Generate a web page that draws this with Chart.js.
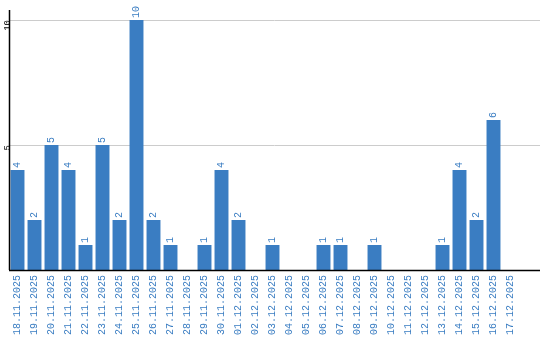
<!DOCTYPE html>
<html>
<head>
<meta charset="utf-8">
<script src="https://cdn.jsdelivr.net/npm/chart.js@4"></script>
<style>
  html, body { margin: 0; padding: 0; background: #fff; }
  #wrap { width: 540px; height: 340px; }
</style>
</head>
<body>
<div id="wrap"><canvas id="chart"></canvas></div>
<script>
// ─── Data ─────────────────────────────────────────────────────────────
const days = [
  "18.11.2025", "19.11.2025", "20.11.2025", "21.11.2025", "22.11.2025",
  "23.11.2025", "24.11.2025", "25.11.2025", "26.11.2025", "27.11.2025",
  "28.11.2025", "29.11.2025", "30.11.2025", "01.12.2025", "02.12.2025",
  "03.12.2025", "04.12.2025", "05.12.2025", "06.12.2025", "07.12.2025",
  "08.12.2025", "09.12.2025", "10.12.2025", "11.12.2025", "12.12.2025",
  "13.12.2025", "14.12.2025", "15.12.2025", "16.12.2025", "17.12.2025",
];
const counts = [
  4, 2, 5, 4, 1, 5, 2, 10, 2, 1,
  0, 1, 4, 2, 0, 1, 0, 0, 1, 1,
  0, 1, 0, 0, 0, 1, 4, 2, 6, 0,
];
const yTicks = [5, 10];

const BLUE = "#3a7dc2";
const FONT = "'Liberation Mono', monospace";

// ─── Plugins ──────────────────────────────────────────────────────────
// value labels above bars, rotated like the axis labels
const valueLabels = {
  id: "valueLabels",
  afterDatasetsDraw(chart) {
    const ctx = chart.ctx;
    const meta = chart.getDatasetMeta(0);
    ctx.save();
    ctx.fillStyle = BLUE;
    ctx.font = "10px " + FONT;
    ctx.textAlign = "left";
    ctx.textBaseline = "middle";
    meta.data.forEach((bar, i) => {
      const v = counts[i];
      if (!v) return;
      ctx.save();
      ctx.translate(bar.x, bar.y - 2);
      ctx.rotate(-Math.PI / 2);
      ctx.fillText(String(v), 0, 0);
      ctx.restore();
    });
    ctx.restore();
  },
};

// stretch grid lines and the base line out to the right edge
const fullWidthLines = {
  id: "fullWidthLines",
  beforeDatasetsDraw(chart) {
    const { ctx, chartArea, scales } = chart;
    ctx.save();
    ctx.lineWidth = 1;
    ctx.strokeStyle = "#cccccc";
    yTicks.forEach((t) => {
      const y = Math.round(scales.y.getPixelForValue(t)) + 0.5;
      ctx.beginPath();
      ctx.moveTo(chartArea.left, y);
      ctx.lineTo(chart.width, y);
      ctx.stroke();
    });
    ctx.restore();
  },
  afterDatasetsDraw(chart) {
    const { ctx, chartArea } = chart;
    ctx.save();
    ctx.strokeStyle = "#000";
    ctx.lineWidth = 1.5;
    ctx.beginPath();
    ctx.moveTo(chartArea.left, chartArea.bottom + 0.5);
    ctx.lineTo(chart.width, chartArea.bottom + 0.5);
    ctx.stroke();
    ctx.beginPath();
    ctx.moveTo(chartArea.left + 0.5, chartArea.top);
    ctx.lineTo(chartArea.left + 0.5, chartArea.bottom);
    ctx.stroke();
    ctx.restore();
  },
};

// ─── Chart ────────────────────────────────────────────────────────────
new Chart(document.getElementById("chart"), {
  type: "bar",
  data: {
    labels: days,
    datasets: [{
      data: counts,
      backgroundColor: BLUE,
      borderWidth: 0,
      barPercentage: 0.82,
      categoryPercentage: 1,
    }],
  },
  options: {
    responsive: true,
    maintainAspectRatio: false,
    animation: false,
    layout: { padding: { top: 10, right: 21, left: 0, bottom: 0 } },
    plugins: { legend: { display: false }, tooltip: { enabled: false } },
    scales: {
      x: {
        grid: { display: false, drawTicks: false },
        border: { display: false },
        afterFit(scale) { scale.height = 70; },
        ticks: {
          color: BLUE,
          font: { size: 10, family: FONT },
          minRotation: 90,
          maxRotation: 90,
          padding: 5,
          autoSkip: false,
        },
      },
      y: {
        min: 0,
        max: 10.4,
        afterFit(scale) { scale.width = 9; },
        afterBuildTicks(scale) {
          scale.ticks = yTicks.map((v) => ({ value: v }));
        },
        grid: { display: false, drawTicks: false },
        border: { display: false },
        ticks: {
          color: "#000",
          font: { size: 9, family: FONT },
          minRotation: 90,
          maxRotation: 90,
          padding: 1,
        },
      },
    },
  },
  plugins: [fullWidthLines, valueLabels],
});
</script>
</body>
</html>
